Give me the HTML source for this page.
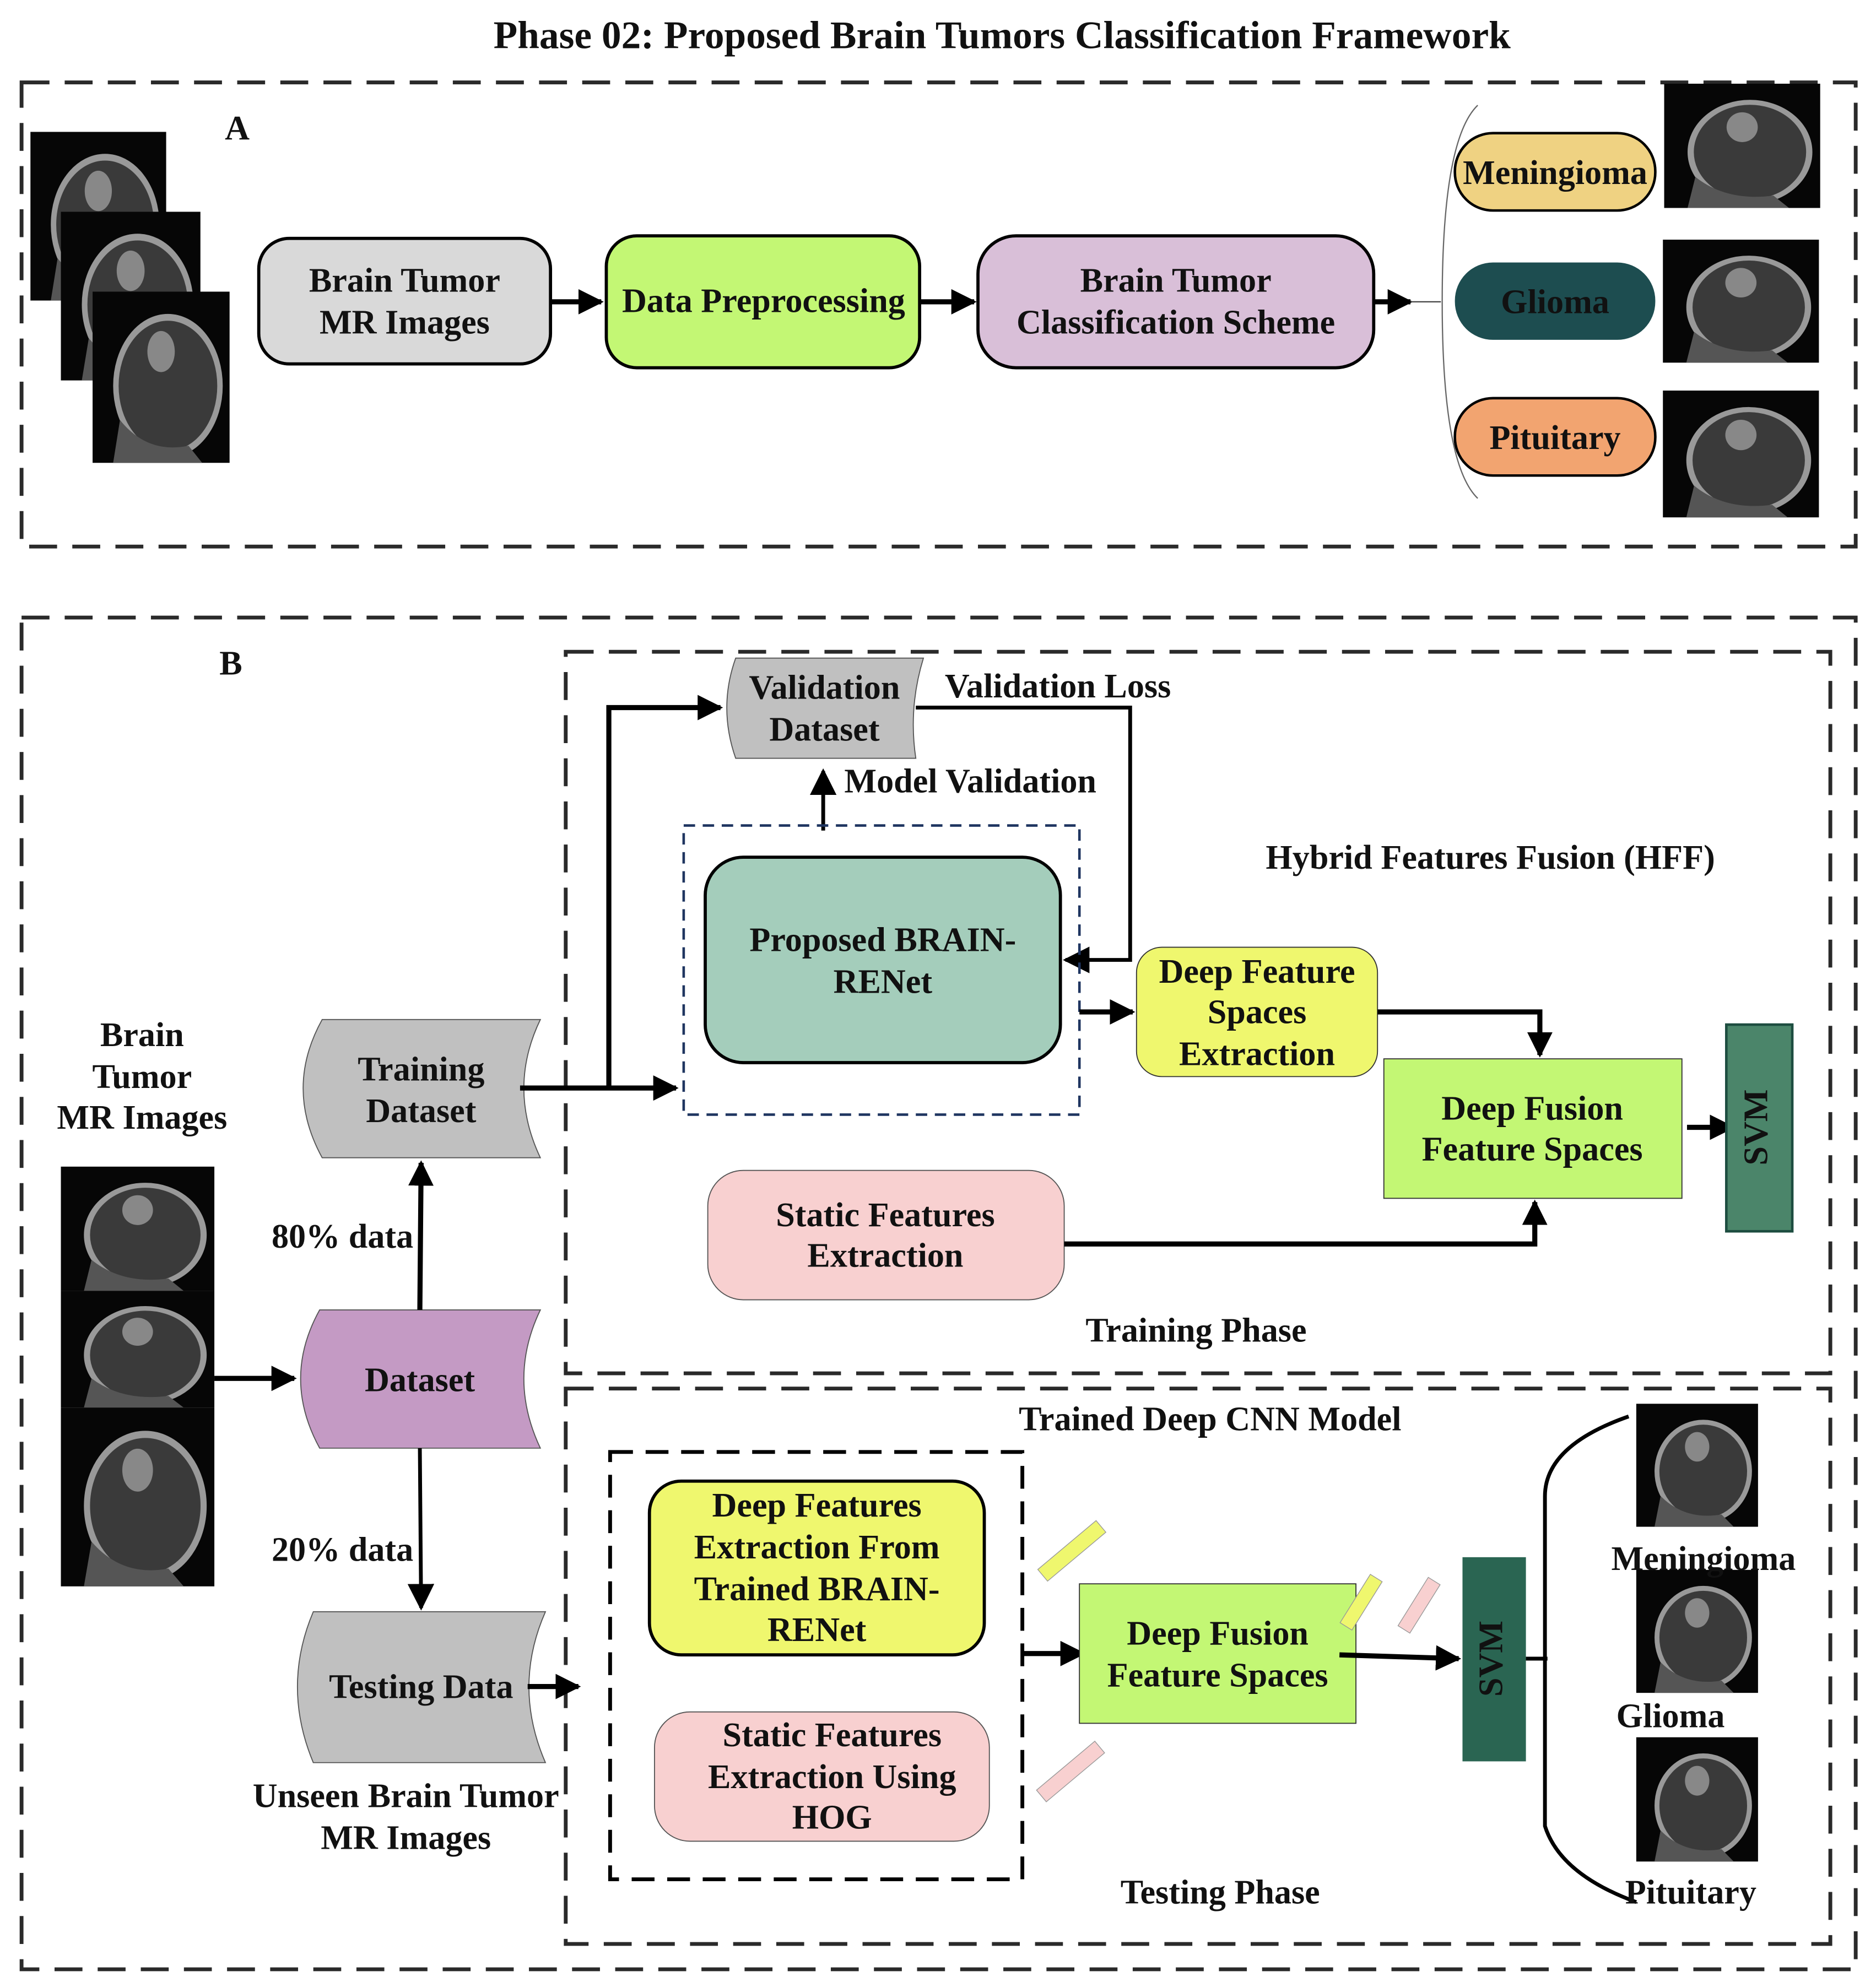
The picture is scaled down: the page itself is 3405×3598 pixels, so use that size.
<!DOCTYPE html>
<html><head><meta charset="utf-8"><style>
html,body{margin:0;padding:0;background:#fff}
svg{display:block}
text{font-family:"Liberation Serif",serif;font-weight:bold;fill:#111}
</style></head><body>
<svg width="3405" height="3598" viewBox="0 0 1479 1563" preserveAspectRatio="none" xmlns="http://www.w3.org/2000/svg">
<defs>
<marker id="ah" viewBox="0 0 10 10" refX="9" refY="5" markerWidth="5" markerHeight="5" orient="auto-start-reverse" markerUnits="strokeWidth"><path d="M0,0 L10,5 L0,10 Z" fill="#000"/></marker>
<marker id="ah2" viewBox="0 0 10 10" refX="9" refY="5" markerWidth="7" markerHeight="7" orient="auto" markerUnits="strokeWidth"><path d="M0,0 L10,5 L0,10 Z" fill="#000"/></marker>
<g id="mri"><rect x="0" y="0" width="100" height="100" fill="#060606"/><ellipse cx="55" cy="55" rx="38" ry="40" fill="#3a3a3a" stroke="#999" stroke-width="4"/><ellipse cx="50" cy="35" rx="10" ry="12" fill="#888"/><path d="M20 75 Q40 95 70 90 L80 100 L15 100 Z" fill="#555"/></g>
</defs>

<text x="790" y="38" font-size="31" text-anchor="middle">Phase 02: Proposed Brain Tumors Classification Framework</text>

<!-- Panel A -->
<rect x="17" y="65" width="1446" height="366" fill="none" stroke="#2a2a2a" stroke-width="3" stroke-dasharray="22 12"/>
<text x="187" y="110" font-size="27" text-anchor="middle">A</text>
<use href="#mri" transform="translate(24,104) scale(1.07,1.33)"/>
<use href="#mri" transform="translate(48,167) scale(1.1,1.33)"/>
<use href="#mri" transform="translate(73,230) scale(1.08,1.35)"/>

<rect x="204" y="188" width="230" height="99" rx="24" fill="#d9d9d9" stroke="#000" stroke-width="2.5"/>
<text x="319" y="230" font-size="27" text-anchor="middle">Brain Tumor</text>
<text x="319" y="263" font-size="27" text-anchor="middle">MR Images</text>
<line x1="434" y1="238" x2="474" y2="238" stroke="#000" stroke-width="4" marker-end="url(#ah)"/>
<rect x="478" y="186" width="247" height="104" rx="24" fill="#c3f774" stroke="#000" stroke-width="2.5"/>
<text x="602" y="246" font-size="27" text-anchor="middle">Data Preprocessing</text>
<line x1="725" y1="238" x2="768" y2="238" stroke="#000" stroke-width="4" marker-end="url(#ah)"/>
<rect x="771" y="186" width="312" height="104" rx="30" fill="#d9bfd8" stroke="#000" stroke-width="2.5"/>
<text x="927" y="230" font-size="27" text-anchor="middle">Brain Tumor</text>
<text x="927" y="263" font-size="27" text-anchor="middle">Classification Scheme</text>
<line x1="1083" y1="238" x2="1112" y2="238" stroke="#000" stroke-width="4" marker-end="url(#ah)"/>
<line x1="1112" y1="238" x2="1136" y2="238" stroke="#444" stroke-width="1"/>
<path d="M1165 83 Q1137 110 1137 238 Q1137 366 1165 393" fill="none" stroke="#666" stroke-width="1"/>
<rect x="1147" y="105" width="158" height="61" rx="30" fill="#efd282" stroke="#000" stroke-width="2"/>
<text x="1226" y="145" font-size="27" text-anchor="middle">Meningioma</text>
<rect x="1147" y="207" width="158" height="61" rx="30" fill="#1d4d50"/>
<text x="1226" y="247" font-size="27" text-anchor="middle">Glioma</text>
<rect x="1147" y="314" width="158" height="61" rx="30" fill="#f2a470" stroke="#000" stroke-width="2"/>
<text x="1226" y="354" font-size="27" text-anchor="middle">Pituitary</text>
<use href="#mri" transform="translate(1312,66) scale(1.23,0.98)"/>
<use href="#mri" transform="translate(1311,189) scale(1.23,0.97)"/>
<use href="#mri" transform="translate(1311,308) scale(1.23,1.0)"/>

<!-- Panel B -->
<rect x="17" y="487" width="1446" height="1066" fill="none" stroke="#2a2a2a" stroke-width="3" stroke-dasharray="22 12"/>
<rect x="446" y="514" width="997" height="569" fill="none" stroke="#2a2a2a" stroke-width="3" stroke-dasharray="22 12"/>
<rect x="446" y="1095" width="997" height="438" fill="none" stroke="#2a2a2a" stroke-width="3" stroke-dasharray="22 12"/>
<text x="182" y="532" font-size="27" text-anchor="middle">B</text>

<text x="112" y="825" font-size="27" text-anchor="middle">Brain</text>
<text x="112" y="858" font-size="27" text-anchor="middle">Tumor</text>
<text x="112" y="890" font-size="27" text-anchor="middle">MR Images</text>
<use href="#mri" transform="translate(48,920) scale(1.21,0.98)"/>
<use href="#mri" transform="translate(48,1018) scale(1.21,0.92)"/>
<use href="#mri" transform="translate(48,1110) scale(1.21,1.41)"/>
<line x1="169" y1="1087" x2="232" y2="1087" stroke="#000" stroke-width="4" marker-end="url(#ah)"/>

<path d="M252 1033 L426 1033 Q400 1087 426 1142 L252 1142 Q222 1087 252 1033 Z" fill="#c49ac4" stroke="#555" stroke-width="0.8"/>
<text x="331" y="1097" font-size="27" text-anchor="middle">Dataset</text>
<line x1="331" y1="1033" x2="332" y2="917" stroke="#000" stroke-width="4" marker-end="url(#ah)"/>
<text x="270" y="984" font-size="27" text-anchor="middle">80% data</text>
<path d="M254 804 L426 804 Q400 858 426 913 L254 913 Q224 858 254 804 Z" fill="#c0c0c0" stroke="#555" stroke-width="0.8"/>
<text x="332" y="852" font-size="27" text-anchor="middle">Training</text>
<text x="332" y="885" font-size="27" text-anchor="middle">Dataset</text>
<line x1="331" y1="1142" x2="332" y2="1268" stroke="#000" stroke-width="3" marker-end="url(#ah2)"/>
<text x="270" y="1231" font-size="27" text-anchor="middle">20% data</text>
<path d="M247 1271 L430 1271 Q404 1330 430 1390 L247 1390 Q222 1330 247 1271 Z" fill="#c0c0c0" stroke="#555" stroke-width="0.8"/>
<text x="332" y="1339" font-size="27" text-anchor="middle">Testing Data</text>
<line x1="416" y1="1330" x2="456" y2="1330" stroke="#000" stroke-width="4" marker-end="url(#ah)"/>
<text x="320" y="1425" font-size="27" text-anchor="middle">Unseen Brain Tumor</text>
<text x="320" y="1458" font-size="27" text-anchor="middle">MR Images</text>

<!-- training -->
<line x1="410" y1="858" x2="533" y2="858" stroke="#000" stroke-width="4" marker-end="url(#ah)"/>
<polyline points="480,858 480,558 568,558" fill="none" stroke="#000" stroke-width="4" marker-end="url(#ah)"/>
<path d="M580 519 L728 519 Q716 558 722 598 L580 598 Q566 558 580 519 Z" fill="#c0c0c0" stroke="#555" stroke-width="0.8"/>
<text x="650" y="551" font-size="27" text-anchor="middle">Validation</text>
<text x="650" y="584" font-size="27" text-anchor="middle">Dataset</text>
<text x="834" y="550" font-size="27" text-anchor="middle">Validation Loss</text>
<polyline points="722,558 891,558 891,757 840,757" fill="none" stroke="#000" stroke-width="3" marker-end="url(#ah2)"/>
<line x1="649" y1="655" x2="649" y2="608" stroke="#000" stroke-width="3" marker-end="url(#ah2)"/>
<text x="765" y="625" font-size="27" text-anchor="middle">Model Validation</text>
<rect x="539" y="651" width="312" height="228" fill="none" stroke="#1f3560" stroke-width="2" stroke-dasharray="9 6"/>
<rect x="556" y="676" width="280" height="162" rx="30" fill="#a4cdbb" stroke="#000" stroke-width="2.5"/>
<text x="696" y="750" font-size="27" text-anchor="middle">Proposed BRAIN-</text>
<text x="696" y="783" font-size="27" text-anchor="middle">RENet</text>
<line x1="851" y1="798" x2="893" y2="798" stroke="#000" stroke-width="4" marker-end="url(#ah)"/>
<rect x="896" y="747" width="190" height="102" rx="20" fill="#eff76e" stroke="#333" stroke-width="0.8"/>
<text x="991" y="775" font-size="27" text-anchor="middle">Deep Feature</text>
<text x="991" y="807" font-size="27" text-anchor="middle">Spaces</text>
<text x="991" y="840" font-size="27" text-anchor="middle">Extraction</text>
<polyline points="1086,798 1214,798 1214,832" fill="none" stroke="#000" stroke-width="4" marker-end="url(#ah)"/>
<text x="1175" y="685" font-size="27" text-anchor="middle">Hybrid Features Fusion (HFF)</text>
<rect x="1091" y="835" width="235" height="110" fill="#c3f774" stroke="#333" stroke-width="0.8"/>
<text x="1208" y="883" font-size="27" text-anchor="middle">Deep Fusion</text>
<text x="1208" y="915" font-size="27" text-anchor="middle">Feature Spaces</text>
<line x1="1330" y1="889" x2="1366" y2="889" stroke="#000" stroke-width="4" marker-end="url(#ah)"/>
<rect x="1361" y="808" width="52" height="163" fill="#4b856a" stroke="#1d4d40" stroke-width="2"/>
<text x="1387" y="889" font-size="27" text-anchor="middle" dominant-baseline="middle" transform="rotate(-90 1387 889)" font-weight="normal">SVM</text>
<rect x="558" y="923" width="281" height="102" rx="28" fill="#f8d0d0" stroke="#555" stroke-width="0.8"/>
<text x="698" y="967" font-size="27" text-anchor="middle">Static Features</text>
<text x="698" y="999" font-size="27" text-anchor="middle">Extraction</text>
<polyline points="839,981 1210,981 1210,948" fill="none" stroke="#000" stroke-width="4" marker-end="url(#ah)"/>
<text x="943" y="1058" font-size="27" text-anchor="middle">Training Phase</text>

<!-- testing -->
<text x="954" y="1128" font-size="27" text-anchor="middle">Trained Deep CNN Model</text>
<rect x="481" y="1145" width="325" height="337" fill="none" stroke="#000" stroke-width="3" stroke-dasharray="18 10"/>
<rect x="512" y="1168" width="264" height="137" rx="25" fill="#eff76e" stroke="#000" stroke-width="2.5"/>
<text x="644" y="1196" font-size="27" text-anchor="middle">Deep Features</text>
<text x="644" y="1229" font-size="27" text-anchor="middle">Extraction From</text>
<text x="644" y="1262" font-size="27" text-anchor="middle">Trained BRAIN-</text>
<text x="644" y="1294" font-size="27" text-anchor="middle">RENet</text>
<rect x="516" y="1350" width="264" height="102" rx="28" fill="#f8d0d0" stroke="#555" stroke-width="0.8"/>
<text x="656" y="1377" font-size="27" text-anchor="middle">Static Features</text>
<text x="656" y="1410" font-size="27" text-anchor="middle">Extraction Using</text>
<text x="656" y="1442" font-size="27" text-anchor="middle">HOG</text>
<line x1="806" y1="1304" x2="854" y2="1304" stroke="#000" stroke-width="4" marker-end="url(#ah)"/>
<rect x="851" y="1249" width="218" height="110" fill="#c3f774" stroke="#333" stroke-width="0.8"/>
<text x="960" y="1297" font-size="27" text-anchor="middle">Deep Fusion</text>
<text x="960" y="1330" font-size="27" text-anchor="middle">Feature Spaces</text>
<rect x="815" y="1217" width="60" height="12" fill="#eff76e" stroke="#999" stroke-width="0.6" transform="rotate(-40 845 1223)"/>
<rect x="814" y="1391" width="60" height="12" fill="#f8d0d0" stroke="#999" stroke-width="0.6" transform="rotate(-40 844 1397)"/>
<rect x="1070" y="1250" width="45" height="11" fill="#f8d0d0" stroke="#999" stroke-width="0.6" transform="rotate(-58 1115 1237)"/>
<rect x="1070" y="1250" width="45" height="11" fill="#eff76e" stroke="#999" stroke-width="0.6" transform="rotate(-58 1090 1277)"/>
<line x1="1056" y1="1305" x2="1150" y2="1308" stroke="#000" stroke-width="4" marker-end="url(#ah)"/>
<rect x="1153" y="1228" width="50" height="161" fill="#2a6552"/>
<text x="1178" y="1308" font-size="27" text-anchor="middle" dominant-baseline="middle" transform="rotate(-90 1178 1308)" font-weight="normal">SVM</text>
<line x1="1203" y1="1308" x2="1220" y2="1308" stroke="#000" stroke-width="3"/>
<path d="M1284 1117 Q1218 1140 1218 1180 L1218 1440 Q1230 1478 1290 1500" fill="none" stroke="#000" stroke-width="3"/>
<use href="#mri" transform="translate(1290,1107) scale(0.96,0.97)"/>
<use href="#mri" transform="translate(1290,1238) scale(0.96,0.97)"/>
<use href="#mri" transform="translate(1290,1370) scale(0.96,0.98)"/>
<text x="1343" y="1238" font-size="27" text-anchor="middle">Meningioma</text>
<text x="1317" y="1362" font-size="27" text-anchor="middle">Glioma</text>
<text x="1333" y="1501" font-size="27" text-anchor="middle">Pituitary</text>
<text x="962" y="1501" font-size="27" text-anchor="middle">Testing Phase</text>
</svg>
</body></html>
